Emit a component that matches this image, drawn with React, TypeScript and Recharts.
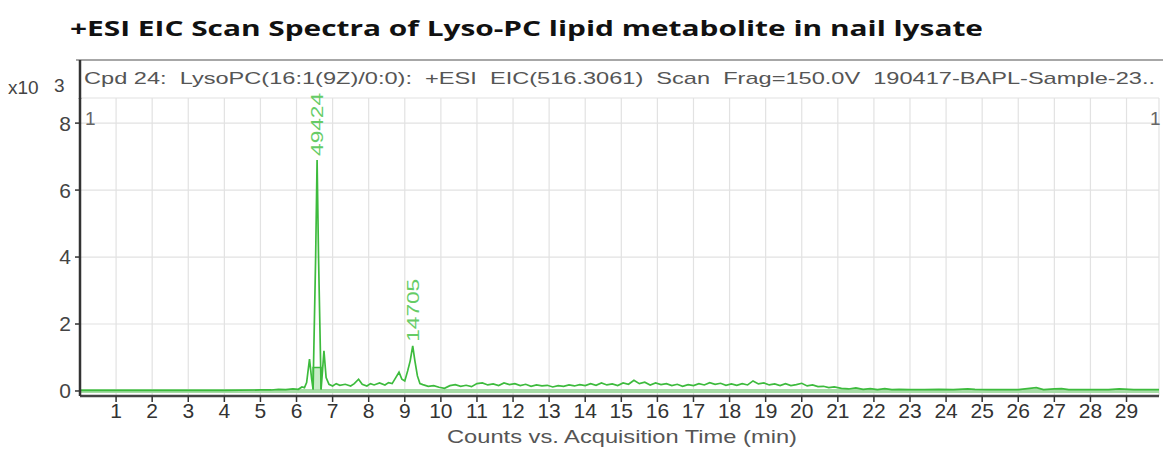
import React from "react";
import {
  LineChart,
  Line,
  XAxis,
  YAxis,
  CartesianGrid,
  ReferenceLine,
  ReferenceArea,
  ReferenceDot,
} from "recharts";

// retention time (min), counts (x10^3)
const preRun = [
  [0, 0.02], [1, 0.02], [2, 0.02], [3, 0.02], [4, 0.02], [5, 0.03],
  [5.3, 0.03], [5.5, 0.05], [5.7, 0.04], [5.9, 0.06], [6.05, 0.05],
  [6.15, 0.12], [6.22, 0.1], [6.28, 0.25],
];

const mainPeak = [
  [6.36, 0.95], [6.42, 0.35], [6.46, 0.04], [6.47, 0.7], [6.53, 4.0],
  [6.57, 6.9], [6.61, 4.0], [6.67, 0.7], [6.68, 0.04], [6.72, 0.6],
  [6.76, 1.2], [6.82, 0.4], [6.9, 0.2],
];

const midNoise = [
  [7.0, 0.15], [7.1, 0.22], [7.2, 0.17], [7.35, 0.2], [7.5, 0.15],
  [7.6, 0.22], [7.72, 0.35], [7.82, 0.2], [7.95, 0.15], [8.05, 0.22],
  [8.15, 0.18], [8.3, 0.24], [8.45, 0.18], [8.55, 0.25], [8.65, 0.22],
  [8.75, 0.4], [8.84, 0.56], [8.92, 0.35], [9.0, 0.3],
];

const secondPeak = [
  [9.08, 0.6], [9.15, 0.9], [9.22, 1.35], [9.28, 0.9], [9.35, 0.45],
  [9.42, 0.22],
];

const baselineNoise = [
  [9.5, 0.19], [9.65, 0.14], [9.8, 0.16], [9.95, 0.11], [10.1, 0.08],
  [10.25, 0.16], [10.4, 0.19], [10.55, 0.14], [10.7, 0.17], [10.85, 0.13],
  [11.0, 0.22], [11.15, 0.24], [11.3, 0.18], [11.45, 0.21], [11.6, 0.16],
  [11.75, 0.24], [11.9, 0.19], [12.05, 0.22], [12.2, 0.16], [12.35, 0.2],
  [12.5, 0.14], [12.65, 0.18], [12.8, 0.15], [12.95, 0.17], [13.1, 0.12],
  [13.25, 0.16], [13.4, 0.14], [13.55, 0.18], [13.7, 0.15], [13.85, 0.19],
  [14.0, 0.16], [14.15, 0.22], [14.3, 0.17], [14.45, 0.24], [14.6, 0.18],
  [14.75, 0.21], [14.9, 0.16], [15.05, 0.24], [15.2, 0.2], [15.35, 0.32],
  [15.5, 0.22], [15.65, 0.26], [15.8, 0.18], [15.95, 0.24], [16.1, 0.19],
  [16.25, 0.22], [16.4, 0.16], [16.55, 0.2], [16.7, 0.14], [16.85, 0.19],
  [17.0, 0.16], [17.15, 0.22], [17.3, 0.18], [17.45, 0.25], [17.6, 0.2],
  [17.75, 0.23], [17.9, 0.17], [18.05, 0.21], [18.2, 0.17], [18.35, 0.22],
  [18.5, 0.18], [18.65, 0.3], [18.8, 0.21], [18.95, 0.24], [19.1, 0.18],
  [19.25, 0.21], [19.4, 0.16], [19.55, 0.22], [19.7, 0.16], [19.85, 0.19],
  [20.0, 0.23], [20.15, 0.15], [20.3, 0.18], [20.45, 0.13], [20.6, 0.14],
  [20.75, 0.1], [20.9, 0.12],
];

const tailNoise = [
  [21.1, 0.08], [21.3, 0.06], [21.5, 0.09], [21.7, 0.05], [21.9, 0.07],
  [22.1, 0.04], [22.3, 0.07], [22.5, 0.04], [22.7, 0.05], [23.0, 0.04],
  [23.4, 0.04], [23.8, 0.05], [24.2, 0.04], [24.6, 0.06], [24.8, 0.05],
  [25.2, 0.04], [25.6, 0.04], [26.0, 0.04], [26.5, 0.1], [26.7, 0.04],
  [27.0, 0.06], [27.2, 0.07], [27.4, 0.04], [28.0, 0.04], [28.5, 0.04],
  [28.8, 0.06], [29.2, 0.04], [29.9, 0.04],
];

const peakLabels = [
  { t: 6.57, v: 6.9, text: "49424" },
  { t: 9.22, v: 1.35, text: "14705" },
];

const integrationBox = { x1: 6.46, x2: 6.68, y1: 0, y2: 0.7 };

const xTicks = [
  1, 2, 3, 4, 5, 6, 7, 8, 9, 10, 11, 12, 13, 14, 15, 16, 17, 18, 19, 20,
  21, 22, 23, 24, 25, 26, 27, 28, 29,
];
const yTicks = [0, 2, 4, 6, 8];

const data = [...preRun, ...mainPeak, ...midNoise, ...secondPeak, ...baselineNoise, ...tailNoise].map(
  ([t, v]) => ({ t, v })
);

const GREEN = "#3dbb3d";
const FONT = "'Liberation Sans', Arial, sans-serif";

function PeakLabel(props: any) {
  const { cx, cy, text } = props;
  const y = cy - 4;
  return (
    <text
      x={cx}
      y={y}
      dy="0.35em"
      transform={`rotate(-90 ${cx} ${y})`}
      fill="#66cc66"
      fontSize={17}
      fontFamily={FONT}
      textLength={63}
      lengthAdjust="spacingAndGlyphs"
    >
      {text}
    </text>
  );
}

export default function App() {
  return (
    <div style={{ position: "absolute", left: 0, top: 0, width: 1163, height: 450, background: "#fff" }}>
      <LineChart
        width={1163}
        height={450}
        data={data}
        margin={{ top: 98, right: 4, bottom: 0, left: 0 }}
      >
        <CartesianGrid stroke="#e2e2e2" strokeWidth={1.2} />
        <XAxis
          dataKey="t"
          type="number"
          domain={[0, 29.9]}
          ticks={xTicks}
          allowDataOverflow
          height={54}
          axisLine={{ stroke: "#444", strokeWidth: 2.5 }}
          tickLine={{ stroke: "#333", strokeWidth: 1.5 }}
          tickSize={6}
          tickMargin={1}
          tick={{ fill: "#333", fontSize: 21, fontFamily: FONT }}
        />
        <YAxis
          type="number"
          domain={[-0.15, 8.75]}
          ticks={yTicks}
          allowDataOverflow
          width={80}
          axisLine={{ stroke: "#333", strokeWidth: 2.5 }}
          tickLine={{ stroke: "#333", strokeWidth: 1.5 }}
          tickSize={5}
          tickMargin={4}
          tick={{ fill: "#444", fontSize: 21, fontFamily: FONT }}
        />
        <ReferenceLine y={0} stroke="#a6dca6" strokeWidth={4} />
        <ReferenceArea
          x1={integrationBox.x1}
          x2={integrationBox.x2}
          y1={integrationBox.y1}
          y2={integrationBox.y2}
          fill="#c8ecc8"
          fillOpacity={1}
          stroke={GREEN}
          strokeWidth={1.5}
        />
        <Line
          type="linear"
          dataKey="v"
          stroke={GREEN}
          strokeWidth={1.7}
          dot={false}
          isAnimationActive={false}
        />
        {peakLabels.map((p) => (
          <ReferenceDot
            key={p.text}
            x={p.t}
            y={p.v}
            r={0}
            shape={(s: any) => <PeakLabel {...s} text={p.text} />}
          />
        ))}
      </LineChart>
      <svg
        width={1163}
        height={450}
        style={{ position: "absolute", left: 0, top: 0, pointerEvents: "none" }}
      >
        <text
          x={70}
          y={36}
          fontFamily="'Open Sans', sans-serif"
          fontWeight="bold"
          fontSize={22}
          fill="#111"
          textLength={913}
          lengthAdjust="spacingAndGlyphs"
        >
          +ESI EIC Scan Spectra of Lyso-PC lipid metabolite in nail lysate
        </text>
        <line x1={76} y1={60} x2={1163} y2={60} stroke="#8a8a8a" strokeWidth={1.5} />
        <line x1={80} y1={60} x2={80} y2={99} stroke="#333" strokeWidth={2.5} />
        <text
          x={84}
          y={84}
          fontFamily={FONT}
          fontSize={17}
          fill="#555"
          textLength={1071}
          lengthAdjust="spacingAndGlyphs"
          xmlSpace="preserve"
        >
          {"Cpd 24:  LysoPC(16:1(9Z)/0:0):  +ESI  EIC(516.3061)  Scan  Frag=150.0V  190417-BAPL-Sample-23.."}
        </text>
        <text x={8} y={94} fontFamily={FONT} fontSize={19} fill="#444">
          x10
        </text>
        <text x={54} y={92} fontFamily={FONT} fontSize={19} fill="#444">
          3
        </text>
        <text x={85} y={125} fontFamily={FONT} fontSize={19} fill="#666">
          1
        </text>
        <text x={1150} y={125} fontFamily={FONT} fontSize={19} fill="#666">
          1
        </text>
        <text
          x={622}
          y={443}
          textAnchor="middle"
          fontFamily={FONT}
          fontSize={19}
          fill="#555"
          textLength={350}
          lengthAdjust="spacingAndGlyphs"
        >
          Counts vs. Acquisition Time (min)
        </text>
      </svg>
    </div>
  );
}
